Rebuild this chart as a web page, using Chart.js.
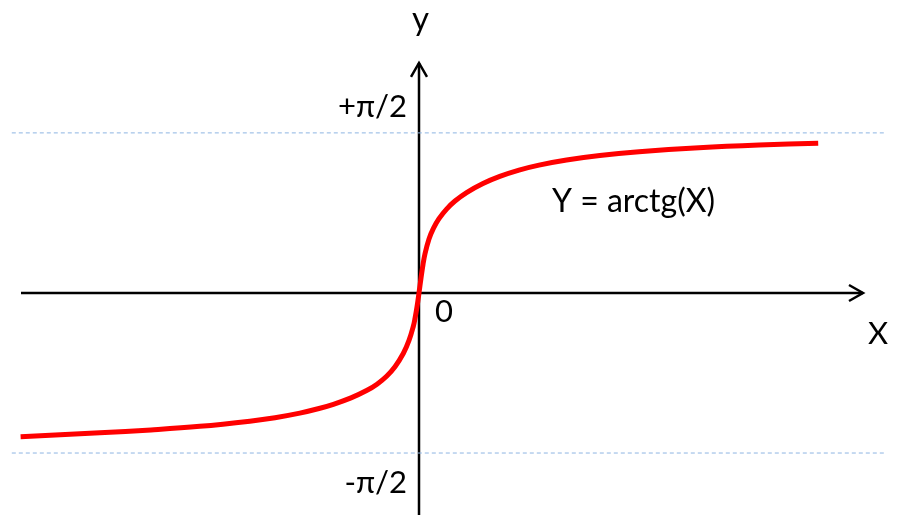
<!DOCTYPE html>
<html>
<head>
<meta charset="utf-8">
<script src="https://cdn.jsdelivr.net/npm/chart.js@4"></script>
<style>
  html, body { margin: 0; padding: 0; background: #fff; }
  canvas { display: block; }
</style>
</head>
<body>
<canvas id="chart" width="901" height="515"></canvas>
<script>
// points (x in chart units, y in radians)
let curveX = [-9.96, -7.98, -6.7, -5.48, -4.23, -3.6, -2.98, -2.5, -2.14, -1.7, -1.31, -1.05, -0.81, -0.6, -0.39, -0.25, -0.14, -0.1, -0.05, 0,
              0.05, 0.1, 0.15, 0.25, 0.36, 0.5, 0.69, 0.9, 1.19, 1.6, 2.02, 2.5, 3.0, 3.69, 4.52, 5.5, 7.0, 8.5, 9.98];
let curveY = [-1.410, -1.373, -1.344, -1.309, -1.258, -1.224, -1.179, -1.134, -1.093, -1.030, -0.958, -0.895, -0.817, -0.724, -0.592, -0.466, -0.324, -0.251, -0.137, 0,
              0.146, 0.278, 0.385, 0.530, 0.634, 0.729, 0.823, 0.902, 0.985, 1.074, 1.144, 1.206, 1.255, 1.305, 1.349, 1.385, 1.424, 1.451, 1.469];

// asymptote levels and their labels
let asymptotes = [Math.PI / 2, -Math.PI / 2];
let asymptoteLabels = ['+π/2', '-π/2'];
let asymptoteSpan = [-10.18, 11.65];

// axis extents
let xAxisSpan = [-9.95, 11.1];
let yAxisSpan = [-2.2, 2.257];

let font = '"Lato", "Open Sans", sans-serif';

// draws the axes with arrow heads and the text annotations
let axesPlugin = {
  id: 'axes',
  beforeDatasetsDraw(chart) {
    let ctx = chart.ctx;
    let xs = chart.scales.x, ys = chart.scales.y;
    let x0 = xs.getPixelForValue(0), y0 = ys.getPixelForValue(0);
    let xl = xs.getPixelForValue(xAxisSpan[0]), xr = xs.getPixelForValue(xAxisSpan[1]);
    let yb = ys.getPixelForValue(yAxisSpan[0]), yt = ys.getPixelForValue(yAxisSpan[1]);
    ctx.save();
    ctx.strokeStyle = '#000';
    ctx.lineWidth = 2.5;
    ctx.beginPath();
    ctx.moveTo(xl, y0); ctx.lineTo(xr, y0);
    ctx.moveTo(x0, yb); ctx.lineTo(x0, yt);
    ctx.stroke();
    // arrow heads
    ctx.beginPath();
    ctx.moveTo(xr - 14, y0 - 8); ctx.lineTo(xr, y0); ctx.lineTo(xr - 14, y0 + 8);
    ctx.moveTo(x0 - 8, yt + 14); ctx.lineTo(x0, yt); ctx.lineTo(x0 + 8, yt + 14);
    ctx.stroke();
    ctx.restore();
  },
  afterDatasetsDraw(chart) {
    let ctx = chart.ctx;
    let xs = chart.scales.x, ys = chart.scales.y;
    let x0 = xs.getPixelForValue(0), y0 = ys.getPixelForValue(0);
    let yTop = ys.getPixelForValue(asymptotes[0]);
    let yBot = ys.getPixelForValue(asymptotes[1]);
    ctx.save();
    ctx.fillStyle = '#000';
    ctx.textBaseline = 'alphabetic';
    ctx.font = '31px ' + font;
    ctx.textAlign = 'right';
    ctx.fillText(asymptoteLabels[0], x0 - 12, yTop - 16);
    ctx.fillText(asymptoteLabels[1], x0 - 12, yBot + 40);
    ctx.textAlign = 'left';
    ctx.fillText('0', x0 + 16, y0 + 29);
    ctx.fillText('X', xs.getPixelForValue(xAxisSpan[1]) + 5, y0 + 51);
    ctx.font = '33px ' + font;
    ctx.fillText('y', x0 - 7, 30);
    ctx.font = '32px ' + font;
    ctx.fillText('Y = arctg(X)', 552, 212);
    ctx.restore();
  }
};

let curve = curveX.map((x, i) => ({ x: x, y: curveY[i] }));
let datasets = asymptotes.map(level => ({
  data: asymptoteSpan.map(x => ({ x: x, y: level })),
  borderColor: '#8DB4E2',
  borderWidth: 1,
  borderDash: [4, 3],
  pointRadius: 0,
  fill: false
}));
datasets.push({
  data: curve,
  borderColor: '#FF0000',
  borderWidth: 5,
  pointRadius: 0,
  fill: false,
  tension: 0.4
});

let chart = new Chart(document.getElementById('chart').getContext('2d'), {
  type: 'line',
  data: { datasets: datasets },
  options: {
    responsive: false,
    animation: false,
    layout: { padding: 0 },
    plugins: { legend: { display: false }, tooltip: { enabled: false } },
    scales: {
      x: { type: 'linear', display: false, min: -10.475, max: 12.05 },
      y: { type: 'linear', display: false, min: -2.179, max: 2.875 }
    }
  },
  plugins: [axesPlugin]
});
</script>
</body>
</html>
